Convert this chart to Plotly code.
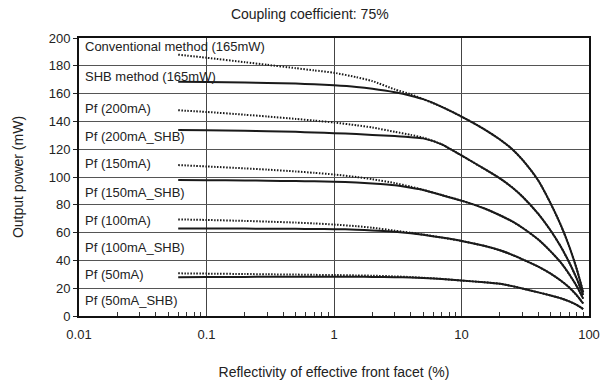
import plotly.graph_objects as go

# Reflectivity of the effective front facet (%) where curves are sampled
refl = [0.06, 0.1, 0.2, 0.3, 0.5, 0.7, 1, 1.5, 2, 3, 4, 5, 7, 10,
        15, 20, 25, 30, 40, 50, 60, 70, 80, 85, 90]

# Output power (mW) for each operating condition
conv_165 = [188, 185.8, 182.6, 180.7, 178.3, 176.7, 175, 171.8, 169, 163, 159.5, 156, 150.5, 143.5,
            134.5, 127, 120, 112.5, 97.5, 81, 65.5, 50, 34, 25.5, 17]
shb_165 = [168.5, 168.3, 168, 167.7, 167.2, 166.7, 166, 164.8, 163.5, 161, 158.5, 156, 150.5, 143.5,
           134.5, 127, 120, 112.5, 97.5, 81, 65.5, 50, 34, 25.5, 17]
pf_200 = [148, 146.8, 144.8, 143.5, 141.8, 140.6, 139.2, 137.2, 135.6, 132.5, 130.3, 128.3, 123.5, 115.5,
          106, 99, 92.5, 86, 73.5, 61.5, 50, 38.5, 27, 21, 15]
pf_200_shb = [133.8, 133.6, 133.2, 132.9, 132.5, 132, 131.5, 130.9, 130.3, 129.5, 128.6, 127.8, 123.5, 115.5,
              106, 99, 92.5, 86, 73.5, 61.5, 50, 38.5, 27, 21, 15]
pf_150 = [108.6, 107.6, 106.2, 105.3, 104, 103, 101.8, 100, 98.4, 95.6, 93, 90.8, 87, 83,
          77.5, 72.5, 68, 63.5, 55, 46.5, 38.5, 30, 21.5, 17, 12.5]
pf_150_shb = [97.8, 97.7, 97.5, 97.3, 97.1, 96.9, 96.6, 96, 95.3, 94, 92.2, 90.6, 87, 83,
              77.5, 72.5, 68, 63.5, 55, 46.5, 38.5, 30, 21.5, 17, 12.5]
pf_100 = [69.5, 69.1, 68.4, 67.9, 67.2, 66.6, 65.8, 64.6, 63.5, 61.4, 59.9, 58.6, 56.4, 54,
          50.5, 47.3, 44, 40.8, 35.5, 30.5, 25.5, 20.5, 15, 12, 9]
pf_100_shb = [63, 63, 62.9, 62.8, 62.7, 62.6, 62.5, 62.1, 61.6, 60.6, 59.6, 58.5, 56.4, 54,
              50.5, 47.3, 44, 40.8, 35.5, 30.5, 25.5, 20.5, 15, 12, 9]
pf_50 = [30.7, 30.5, 30.2, 30, 29.8, 29.6, 29.5, 29.2, 29, 28.5, 28, 27.5, 26.7, 25.5,
         24.3, 23.2, 21.5, 19.8, 17, 14.8, 12.8, 10.5, 8, 6.5, 5]
pf_50_shb = [27.8, 28, 28.1, 28.2, 28.3, 28.3, 28.3, 28.2, 28.1, 27.9, 27.7, 27.4, 26.7, 25.5,
             24.3, 23.2, 21.5, 19.8, 17, 14.8, 12.8, 10.5, 8, 6.5, 5]

# Curve labels and the power level each label sits at
label_texts = ["Conventional method (165mW)", "SHB method (165mW)", "Pf (200mA)",
               "Pf (200mA_SHB)", "Pf (150mA)", "Pf (150mA_SHB)", "Pf (100mA)",
               "Pf (100mA_SHB)", "Pf (50mA)", "Pf (50mA_SHB)"]
label_levels = [194.2, 172, 149.6, 128.8, 109.4, 89.2, 69, 49, 30.2, 11.5]

x_tick_vals = [0.01, 0.1, 1, 10, 100]
x_tick_text = ["0.01", "0.1", "1", "10", "100"]
x_minor_vals = [m * 10.0 ** e for e in range(-2, 2) for m in range(2, 10)]

FONT = "Liberation Sans, Arial, sans-serif"
INK = "#1a1a1a"
TEXT = "#222"

fig = go.Figure()

dotted = [conv_165, pf_200, pf_150, pf_100, pf_50]
solid = [shb_165, pf_200_shb, pf_150_shb, pf_100_shb, pf_50_shb]

for ys in dotted:
    fig.add_trace(go.Scatter(x=refl, y=ys, mode="lines",
                             line=dict(color=INK, width=2, dash="1.5px,1.5px",
                                       shape="spline", smoothing=0.6),
                             showlegend=False, hoverinfo="skip"))
for ys in solid:
    fig.add_trace(go.Scatter(x=refl, y=ys, mode="lines",
                             line=dict(color=INK, width=2, shape="spline", smoothing=0.6),
                             showlegend=False, hoverinfo="skip"))

for txt, lvl in zip(label_texts, label_levels):
    fig.add_annotation(x=-1.965, y=lvl, xref="x", yref="y", text=txt, showarrow=False,
                       xanchor="left", yanchor="middle",
                       font=dict(family=FONT, size=13, color=TEXT))

fig.update_layout(
    width=605, height=380,
    margin=dict(l=79, r=16, t=38, b=64),
    paper_bgcolor="white", plot_bgcolor="white",
    font=dict(family=FONT, color=TEXT),
    title=dict(text="Coupling coefficient: 75%", x=0.512, xref="container", xanchor="center",
               y=0.963, yref="container", yanchor="middle",
               font=dict(family=FONT, size=14, color=TEXT)),
)

fig.update_xaxes(
    type="log", range=[-2, 2], automargin=False,
    tickvals=x_tick_vals, ticktext=x_tick_text,
    tickfont=dict(family=FONT, size=13, color=TEXT), ticklabelstandoff=5,
    showgrid=True, gridcolor="#444", gridwidth=1,
    showline=True, linecolor="#111", linewidth=2, mirror=True,
    ticks="", zeroline=False,
    minor=dict(tickmode="array", tickvals=x_minor_vals, ticks="inside", ticklen=4,
               tickcolor="#333", tickwidth=1, showgrid=False),
    title=dict(text="Reflectivity of effective front facet (%)",
               font=dict(family=FONT, size=14, color=TEXT), standoff=30),
)
fig.update_yaxes(
    range=[0, 200], dtick=20, automargin=False,
    tickfont=dict(family=FONT, size=13, color=TEXT),
    showgrid=True, gridcolor="#555", gridwidth=1,
    showline=True, linecolor="#111", linewidth=2, mirror=True,
    ticks="outside", ticklen=4, tickcolor="#222", tickwidth=1, zeroline=False,
    title=dict(text="Output power (mW)", font=dict(family=FONT, size=14, color=TEXT), standoff=22),
)

fig.write_html("out.html")
